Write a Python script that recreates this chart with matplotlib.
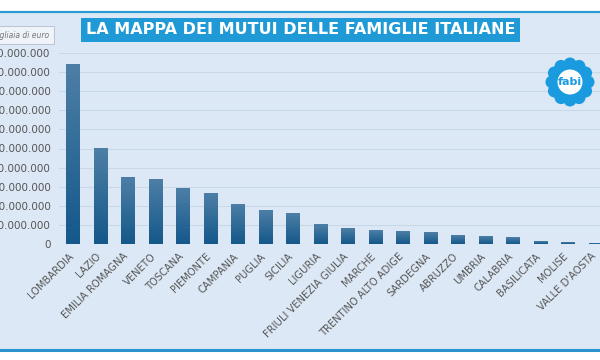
import numpy as np
import matplotlib.pyplot as plt
import matplotlib.transforms as mtransforms
from matplotlib.colors import LinearSegmentedColormap
from matplotlib.patches import Rectangle, Circle
from matplotlib.lines import Line2D

regioni = ['LOMBARDIA', 'LAZIO', 'EMILIA ROMAGNA', 'VENETO', 'TOSCANA', 'PIEMONTE',
           'CAMPANIA', 'PUGLIA', 'SICILIA', 'LIGURIA', 'FRIULI VENEZIA GIULIA', 'MARCHE',
           'TRENTINO ALTO ADIGE', 'SARDEGNA', 'ABRUZZO', 'UMBRIA', 'CALABRIA',
           'BASILICATA', 'MOLISE', "VALLE D'AOSTA"]
# migliaia di euro
mutui = [94000000, 50000000, 34700000, 34000000, 29000000, 26700000,
         20500000, 17400000, 16000000, 10400000, 7900000, 7200000,
         6500000, 6200000, 4700000, 3700000, 3200000,
         1200000, 700000, 500000]
yticks = [0, 10000000, 20000000, 30000000, 40000000, 50000000,
          60000000, 70000000, 80000000, 90000000, 100000000]

W, H = 600, 360
fig = plt.figure(figsize=(6, 3.6), dpi=100)
fig.patch.set_facecolor('white')

def fx(px):
    return px / W

def fy(py):
    return 1 - py / H

# light blue panel with border lines
fig.patches.append(Rectangle((0, fy(349)), 1, fy(13) - fy(349), transform=fig.transFigure,
                             facecolor='#dce8f5', edgecolor='none', zorder=-5))
fig.lines.append(Line2D([0, 1], [fy(12), fy(12)], transform=fig.transFigure,
                        color='#2e9ad4', lw=1.6, zorder=-4))
fig.lines.append(Line2D([0, 1], [fy(349.5), fy(349.5)], transform=fig.transFigure,
                        color='#2a94cf', lw=2.2, zorder=-4))

ax = fig.add_axes([fx(59), fy(244), fx(600) - fx(59), fy(53) - fy(244)])
ax.set_facecolor('none')

cmap = LinearSegmentedColormap.from_list('bar', ['#14588a', '#4d7fa6'])
grad = np.linspace(0, 1, 100).reshape(-1, 1)
bw = 0.49
for i, v in enumerate(mutui):
    ax.imshow(grad, extent=(i - bw / 2, i + bw / 2, 0, v), aspect='auto',
              cmap=cmap, origin='lower', zorder=3)

ax.set_xlim(-0.51, 19.16)
ax.set_ylim(0, 100000000)
ax.set_yticks(yticks)
ax.set_yticklabels([f'{v:,}'.replace(',', '.') for v in yticks],
                   fontsize=7.5, color='#555555')
ax.set_xticks(range(len(regioni)))
ax.set_xticklabels(regioni, rotation=45, ha='right', rotation_mode='anchor',
                   fontsize=7.2, color='#555555')
ax.tick_params(axis='both', length=0)
ax.tick_params(axis='y', pad=6)
ax.tick_params(axis='x', pad=6)
shift = mtransforms.ScaledTranslation(-0.05, 0.01, fig.dpi_scale_trans)
for lab in ax.get_xticklabels():
    lab.set_transform(lab.get_transform() + shift)
ax.grid(axis='y', color='#c9d7e6', lw=0.8, zorder=0)
ax.set_axisbelow(True)
for s in ax.spines.values():
    s.set_visible(False)

# title
fig.text(fx(300.5), fy(30), 'LA MAPPA DEI MUTUI DELLE FAMIGLIE ITALIANE',
         ha='center', va='center', color='white', fontsize=11.5, fontweight='bold',
         bbox=dict(boxstyle='square,pad=0.3', facecolor='#1f9ad6', edgecolor='none'))

# unit box
fig.text(fx(49), fy(35), 'migliaia di euro', ha='right', va='center',
         fontsize=5.5, style='italic', color='#777777',
         bbox=dict(boxstyle='square,pad=0.6', facecolor='#eef4fa', edgecolor='#b5bec8', lw=0.6))

# logo
lg = fig.add_axes([fx(545), fy(107), fx(50), fy(0) - fy(50)])
lg.set_xlim(-25, 25)
lg.set_ylim(-25, 25)
lg.set_aspect('equal')
lg.axis('off')
for a in np.linspace(0, 2 * np.pi, 12, endpoint=False):
    lg.add_patch(Circle((18 * np.cos(a), 18 * np.sin(a)), 6.5, color='#1a9be0', lw=0))
lg.add_patch(Circle((0, 0), 16, color='#1a9be0', lw=0))
lg.add_patch(Circle((0, 0), 12.5, color='white', lw=0))
lg.text(0, 0, 'fabi', ha='center', va='center', fontsize=8, fontweight='bold', color='#1a9be0')

fig.savefig('out.png', dpi=100)
